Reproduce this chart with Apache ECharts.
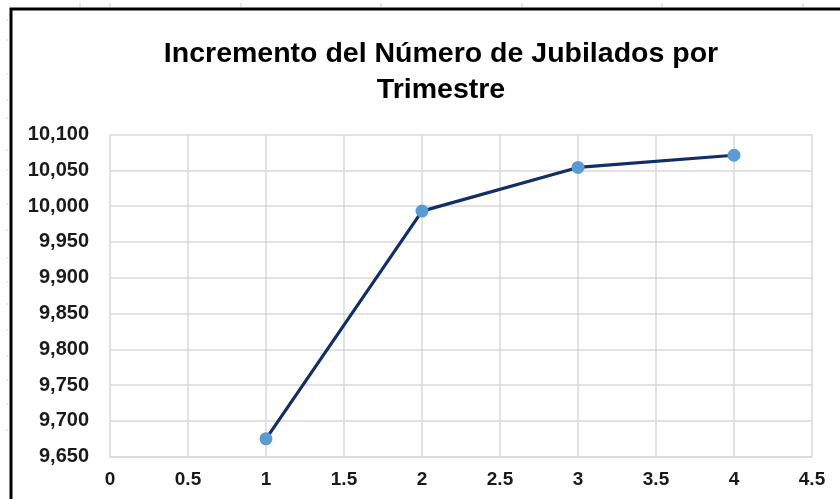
<!DOCTYPE html>
<html>
<head>
<meta charset="utf-8">
<script src="https://cdn.jsdelivr.net/npm/echarts@6/dist/echarts.min.js"></script>
<style>html,body{margin:0;padding:0;background:#fff;}#c{width:840px;height:499px;}</style>
</head>
<body>
<div id="c"></div>
<script>
const titleText = "Incremento del Número de Jubilados por\nTrimestre";
const xValues = [1, 2, 3, 4];
const yValues = [9675, 9993, 10054, 10071];
const xTicks = ["0", "0.5", "1", "1.5", "2", "2.5", "3", "3.5", "4", "4.5"];

const sheetTicksTop = [80, 110, 241, 381, 522, 662, 803];
const sheetTicksLeft = [20, 40, 74, 100, 118, 150, 170, 204, 230, 258, 282, 304, 330, 356, 380, 404, 430];

const gfx = [{
  type: 'rect',
  shape: {x: 11, y: 9, width: 840, height: 500},
  style: {fill: 'none', stroke: '#000000', lineWidth: 3},
  silent: true, z: 10
}];
sheetTicksTop.forEach(x => gfx.push({
  type: 'line', shape: {x1: x, y1: 3, x2: x, y2: 7},
  style: {stroke: '#d0d0d0', lineWidth: 1}, silent: true, z: 9
}));
sheetTicksLeft.forEach(y => gfx.push({
  type: 'line', shape: {x1: 6, y1: y, x2: 8, y2: y},
  style: {stroke: '#d8d8d8', lineWidth: 1}, silent: true, z: 9
}));

const chart = echarts.init(document.getElementById('c'), null, {renderer: 'canvas'});
chart.setOption({
  backgroundColor: '#ffffff',
  animation: false,
  title: {
    text: titleText,
    left: 436,
    top: 31,
    textAlign: 'center',
    textStyle: {
      fontFamily: 'Liberation Sans, Arial, sans-serif',
      fontWeight: 'bold',
      fontSize: 28.5,
      lineHeight: 36,
      color: '#000000'
    }
  },
  grid: {left: 110, right: 28, top: 134.5, bottom: 42.3},
  xAxis: {
    type: 'value',
    min: 0, max: 4.5, interval: 0.5,
    axisLine: {show: true, lineStyle: {color: '#d9d9d9', width: 1.5}},
    axisTick: {show: false},
    splitLine: {show: true, lineStyle: {color: '#d9d9d9', width: 1.5}},
    axisLabel: {
      margin: 14,
      fontFamily: 'Liberation Sans, Arial, sans-serif',
      fontWeight: 'bold', fontSize: 19, color: '#1a1a1a',
      formatter: (v) => xTicks[Math.round(v / 0.5)]
    }
  },
  yAxis: {
    type: 'value',
    min: 9650, max: 10100, interval: 50,
    axisLine: {show: false},
    axisTick: {show: false},
    splitLine: {show: true, lineStyle: {color: '#d9d9d9', width: 1.5}},
    axisLabel: {
      margin: 21,
      fontFamily: 'Liberation Sans, Arial, sans-serif',
      fontWeight: 'bold', fontSize: 20, color: '#1a1a1a',
      formatter: (v) => v.toLocaleString('en-US')
    }
  },
  series: [{
    type: 'line',
    data: xValues.map((x, i) => [x, yValues[i]]),
    symbol: 'circle',
    symbolSize: 13,
    lineStyle: {color: '#112e66', width: 3.2},
    itemStyle: {color: '#5b9bd5', borderWidth: 0},
    z: 3
  }],
  graphic: gfx
});
</script>
</body>
</html>
